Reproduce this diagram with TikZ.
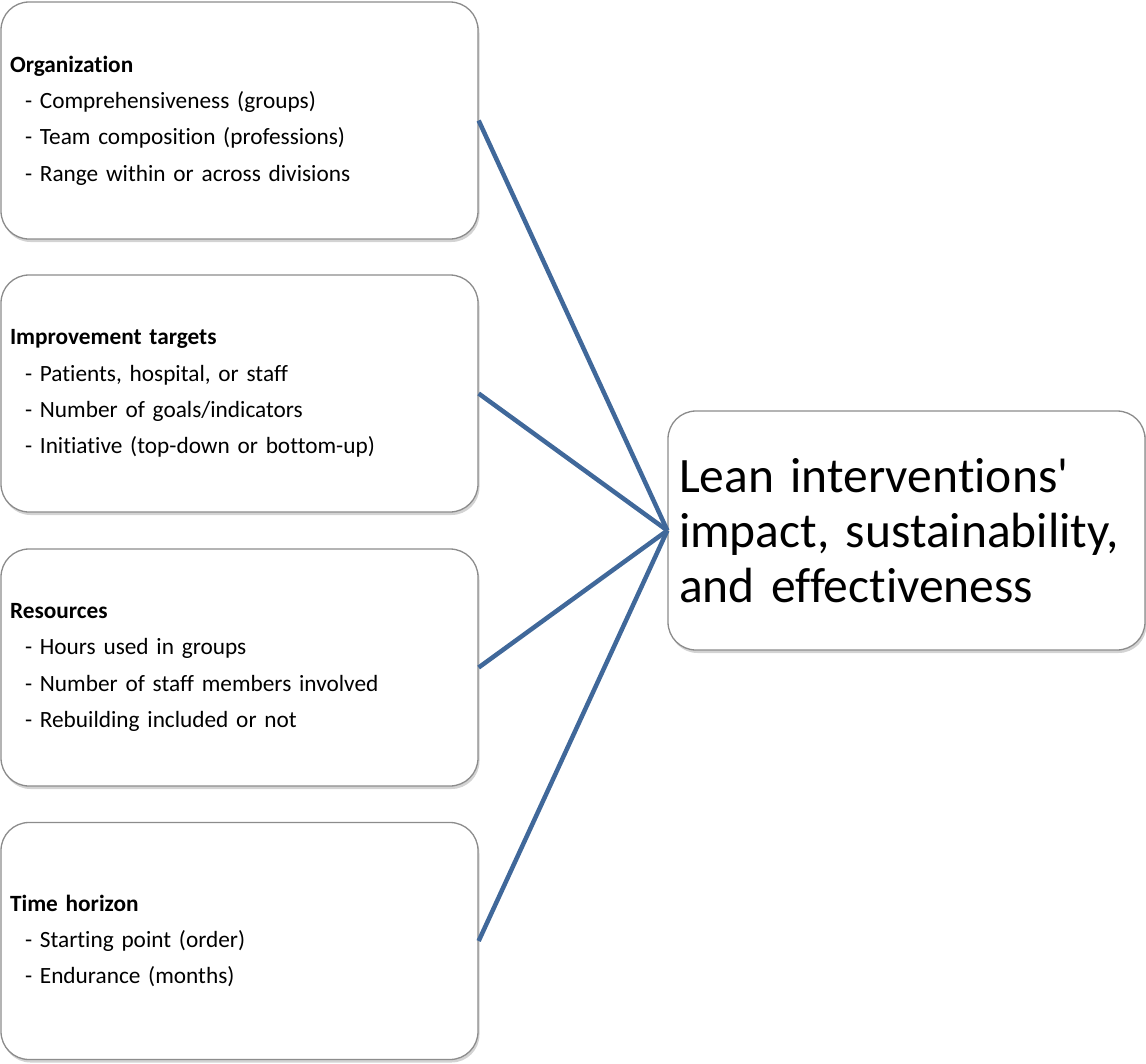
\documentclass[tikz,border=0pt]{standalone}
\usepackage{fontspec}
\setmainfont{Carlito}[Ligatures={TeXOff,NoCommon}]
\usetikzlibrary{shadows}
\definecolor{linkblue}{RGB}{64,104,154}
\definecolor{boxline}{RGB}{140,140,140}
\tikzset{
  factor/.style={draw=boxline, line width=1.3pt, fill=white, rounded corners=28pt,
    minimum width=477pt, minimum height=237pt, text width=459pt, inner xsep=9pt,
    align=left, font=\fontsize{23.3}{36.3}\selectfont,
    drop shadow={shadow xshift=1.5pt, shadow yshift=-3pt, opacity=0.35, fill=gray}},
  outcome/.style={factor, minimum height=239pt, text width=455pt, inner xsep=11pt,
    font=\fontsize{49.5}{55}\selectfont},
  link/.style={draw=linkblue, line width=4.5pt}
}
\newcommand{\itm}[1]{\hspace*{15pt}- #1}
\begin{document}
\begin{tikzpicture}[x=1pt,y=-1pt]
\useasboundingbox (0,0) rectangle (1146,1063);
\node[factor] (org) at (239.5,120.5) {\textbf{Organization}\\
  \itm{Comprehensiveness (groups)}\\
  \itm{Team composition (professions)}\\
  \itm{Range within or across divisions}};
\node[factor] (imp) at (239.5,393.5) {\textbf{Improvement targets}\\
  \itm{Patients, hospital, or staff}\\
  \itm{Number of goals/indicators}\\
  \itm{Initiative (top-down or bottom-up)}};
\node[factor] (res) at (239.5,667.5) {\textbf{Resources}\\
  \itm{Hours used in groups}\\
  \itm{Number of staff members involved}\\
  \itm{Rebuilding included or not}};
\node[factor] (time) at (239.5,941) {\textbf{Time horizon}\\
  \itm{Starting point (order)}\\
  \itm{Endurance (months)}};
\node[outcome] (goal) at (906.5,530.5) {Lean interventions'\\impact, sustainability,\\and effectiveness};
\foreach \src in {org,imp,res,time}
  \draw[link] (\src.east) -- (goal.west);
\end{tikzpicture}
\end{document}
